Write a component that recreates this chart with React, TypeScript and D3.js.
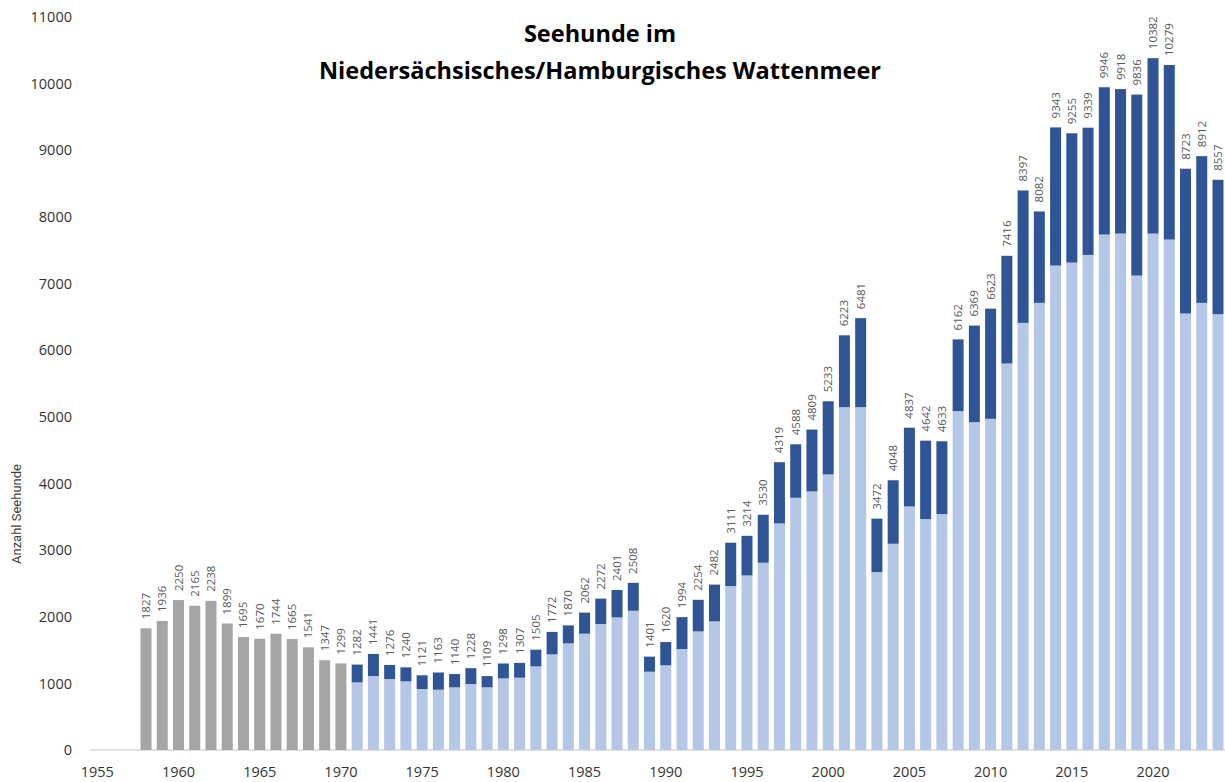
import React, { useRef, useEffect } from "react";
import * as d3 from "d3";

// Zählungen ohne Aufteilung (grau)
const grayYears = [1958, 1959, 1960, 1961, 1962, 1963, 1964, 1965, 1966, 1967, 1968, 1969, 1970];
const grayCounts = [1827, 1936, 2250, 2165, 2238, 1899, 1695, 1670, 1744, 1665, 1541, 1347, 1299];

// Zählungen mit Aufteilung (hellblau unten, dunkelblau oben)
const blueYears = [
    1971, 1972, 1973, 1974, 1975, 1976, 1977, 1978, 1979, 1980, 1981, 1982, 1983, 1984, 1985,
    1986, 1987, 1988, 1989, 1990, 1991, 1992, 1993, 1994, 1995, 1996, 1997, 1998, 1999, 2000,
    2001, 2002, 2003, 2004, 2005, 2006, 2007, 2008, 2009, 2010, 2011, 2012, 2013, 2014, 2015,
    2016, 2017, 2018, 2019, 2020, 2021, 2022, 2023, 2024,
];
const totalCounts = [
    1282, 1441, 1276, 1240, 1121, 1163, 1140, 1228, 1109, 1298, 1307, 1505, 1772, 1870, 2062,
    2272, 2401, 2508, 1401, 1620, 1994, 2254, 2482, 3111, 3214, 3530, 4319, 4588, 4809, 5233,
    6223, 6481, 3472, 4048, 4837, 4642, 4633, 6162, 6369, 6623, 7416, 8397, 8082, 9343, 9255,
    9339, 9946, 9918, 9836, 10382, 10279, 8723, 8912, 8557,
];
const lowerCounts = [
    1015, 1110, 1065, 1030, 915, 905, 940, 990, 940, 1075, 1085, 1255, 1435, 1600, 1745,
    1890, 1990, 2090, 1175, 1270, 1515, 1780, 1930, 2460, 2620, 2810, 3400, 3785, 3880, 4135,
    5145, 5145, 2670, 3095, 3655, 3465, 3540, 5085, 4920, 4970, 5800, 6410, 6710, 7270, 7315,
    7430, 7735, 7750, 7120, 7750, 7660, 6550, 6710, 6540,
];

const yTicks = [0, 1000, 2000, 3000, 4000, 5000, 6000, 7000, 8000, 9000, 10000, 11000];
const xTicks = [1955, 1960, 1965, 1970, 1975, 1980, 1985, 1990, 1995, 2000, 2005, 2010, 2015, 2020];

const W = 1225;
const H = 782;

const SealChart: React.FC = () => {
    const svgRef = useRef<SVGSVGElement | null>(null);

    useEffect(() => {
        const svg = d3.select(svgRef.current);
        svg.selectAll("*").remove();

        const x = d3.scaleLinear().domain([1955, 2024]).range([97.3, 1218]);
        const y = d3.scaleLinear().domain([0, 11000]).range([750, 17]);
        const bw = 11;
        const labelColor = "#595959";

        svg.append("rect").attr("width", W).attr("height", H).attr("fill", "#fff");

        // baseline
        svg.append("line")
            .attr("x1", 90).attr("x2", W)
            .attr("y1", y(0)).attr("y2", y(0))
            .attr("stroke", "#d9d9d9").attr("stroke-width", 1.5);

        // y ticks
        svg.append("g")
            .selectAll("text")
            .data(yTicks)
            .join("text")
            .attr("x", 72)
            .attr("y", (d) => y(d))
            .attr("dy", "0.36em")
            .attr("text-anchor", "end")
            .attr("font-family", "Open Sans")
            .attr("font-size", 14.5)
            .attr("fill", "#333")
            .text((d) => d);

        // x ticks
        svg.append("g")
            .selectAll("text")
            .data(xTicks)
            .join("text")
            .attr("x", (d) => x(d))
            .attr("y", 777)
            .attr("text-anchor", "middle")
            .attr("font-family", "Open Sans")
            .attr("font-size", 14.5)
            .attr("fill", "#333")
            .text((d) => d);

        // axis title
        svg.append("text")
            .attr("transform", `translate(21, 514) rotate(-90)`)
            .attr("text-anchor", "middle")
            .attr("font-family", "Roboto")
            .attr("font-size", 13)
            .attr("fill", "#404040")
            .text("Anzahl Seehunde");

        // gray bars
        svg.append("g")
            .selectAll("rect")
            .data(grayYears)
            .join("rect")
            .attr("x", (d) => x(d) - bw / 2)
            .attr("width", bw)
            .attr("y", (_, i) => y(grayCounts[i]))
            .attr("height", (_, i) => y(0) - y(grayCounts[i]))
            .attr("fill", "#a5a5a5");

        // light blue (lower)
        svg.append("g")
            .selectAll("rect")
            .data(blueYears)
            .join("rect")
            .attr("x", (d) => x(d) - bw / 2)
            .attr("width", bw)
            .attr("y", (_, i) => y(lowerCounts[i]))
            .attr("height", (_, i) => y(0) - y(lowerCounts[i]))
            .attr("fill", "#b4c7e7");

        // dark blue (upper)
        svg.append("g")
            .selectAll("rect")
            .data(blueYears)
            .join("rect")
            .attr("x", (d) => x(d) - bw / 2)
            .attr("width", bw)
            .attr("y", (_, i) => y(totalCounts[i]))
            .attr("height", (_, i) => y(lowerCounts[i]) - y(totalCounts[i]))
            .attr("fill", "#2f5597");

        // value labels
        const allYears = grayYears.concat(blueYears);
        const allTotals = grayCounts.concat(totalCounts);
        svg.append("g")
            .selectAll("text")
            .data(allYears)
            .join("text")
            .attr("transform", (d, i) => `translate(${x(d) + 4}, ${y(allTotals[i]) - 9}) rotate(-90)`)
            .attr("font-family", "Open Sans")
            .attr("font-size", 11.5)
            .attr("fill", labelColor)
            .text((_, i) => allTotals[i]);

        // title
        const title = svg.append("text")
            .attr("text-anchor", "middle")
            .attr("font-family", "Open Sans")
            .attr("font-weight", "bold")
            .attr("font-size", 23.5)
            .attr("fill", "#000");
        title.append("tspan").attr("x", 600).attr("y", 42).text("Seehunde im");
        title.append("tspan").attr("x", 600).attr("y", 79).text("Niedersächsisches/Hamburgisches Wattenmeer");

        return () => {
            svg.selectAll("*").remove();
        };
    }, []);

    return (
        <svg
            ref={svgRef}
            width={W}
            height={H}
            style={{ position: "absolute", left: 0, top: 0 }}
        ></svg>
    );
};

export default function App() {
    return <SealChart />;
}
